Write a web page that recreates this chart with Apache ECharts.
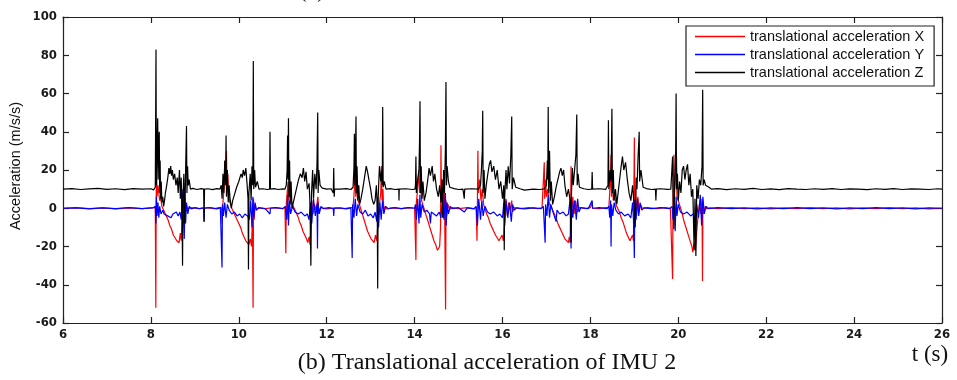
<!DOCTYPE html>
<html>
<head>
<meta charset="utf-8">
<script src="https://cdn.jsdelivr.net/npm/echarts@6/dist/echarts.min.js"></script>
<style>
html,body{margin:0;padding:0;background:#fff;}
#chart{width:957px;height:380px;}
</style>
</head>
<body>
<div id="chart"></div>
<script>
// ---- data (time in s, acceleration in m/s/s) ----
const seriesNames = ['translational acceleration X', 'translational acceleration Y', 'translational acceleration Z'];
const xTickMin = 6, xTickMax = 26, xTickStep = 2;
const yTickMin = -60, yTickMax = 100, yTickStep = 20;

const accX = [
[6.0,0],[6.3,0.3],[6.6,-0.2],[6.9,0.2],[7.2,-0.3],[7.5,0.2],[7.8,-0.2],[8.05,0.3],
[8.1,0.5],[8.112,-52],[8.12,5],[8.13,18],[8.14,6],[8.16,12],[8.18,8],[8.2,4],[8.22,6],[8.25,1],[8.28,0],[8.31,-2],[8.35,-4],[8.39,-6],[8.43,-9],[8.47,-11],[8.51,-14],[8.55,-15],[8.59,-17],[8.62,-16],[8.64,-18],[8.67,-13],[8.69,-17],[8.71,-5],[8.72,5],[8.74,-8],[8.76,2],[8.78,-3],[8.81,1],[8.85,-0.5],[8.9,0.3],
[9.1,-0.2],[9.3,0.3],[9.45,-0.2],[9.55,0.3],
[9.6,0.5],[9.62,-8],[9.64,3],[9.67,12],[9.7,22],[9.72,30],[9.73,10],[9.75,18],[9.77,6],[9.8,3],[9.84,0],[9.88,-2],[9.92,-4],[9.96,-6],[10.0,-8],[10.04,-10],[10.08,-13],[10.12,-15],[10.16,-17],[10.2,-17],[10.23,-19],[10.26,-16],[10.29,-20],[10.31,-5],[10.325,-52],[10.335,5],[10.35,-6],[10.37,2],[10.4,-1],[10.45,0.3],
[10.6,-0.2],[10.8,0.3],[11.0,-0.2],
[11.05,0.5],[11.07,-23.5],[11.08,2],[11.1,8],[11.12,14],[11.13,4],[11.15,10],[11.18,5],[11.22,2],[11.26,0],[11.3,-2],[11.34,-4],[11.38,-7],[11.42,-9],[11.46,-12],[11.5,-14],[11.54,-16],[11.57,-18],[11.6,-15],[11.62,-19],[11.64,-8],[11.66,4],[11.69,-3],[11.72,2],[11.76,-1],[11.8,6],[11.82,-2],[11.86,0.3],
[12.0,-0.3],[12.2,0.2],[12.4,-0.2],[12.55,0.3],
[12.6,0.5],[12.63,10],[12.65,23],[12.66,6],[12.68,14],[12.7,5],[12.73,3],[12.77,0],[12.81,-3],[12.85,-6],[12.89,-9],[12.93,-12],[12.97,-14],[13.01,-16],[13.05,-17],[13.08,-18],[13.11,-14],[13.14,-17],[13.17,-6],[13.2,2],[13.23,8],[13.245,22],[13.26,4],[13.28,10],[13.3,-2],[13.33,1],[13.37,-0.3],
[13.5,0.2],[13.7,-0.2],[13.9,0.3],[14.0,0],
[14.02,0.5],[14.03,-27],[14.04,3],[14.07,10],[14.1,20],[14.115,8],[14.13,14],[14.16,4],[14.2,1],[14.24,-2],[14.28,-5],[14.32,-8],[14.36,-11],[14.4,-14],[14.44,-17],[14.48,-19],[14.52,-22],[14.55,-23],[14.57,-20],[14.59,-10],[14.6,33],[14.61,5],[14.63,15],[14.65,-5],[14.68,8],[14.705,-53],[14.715,4],[14.73,-4],[14.76,2],[14.8,-0.5],[14.85,0.3],
[15.0,-0.2],[15.2,0.3],[15.35,-0.2],
[15.4,0.5],[15.42,-17],[15.43,5],[15.44,30],[15.45,8],[15.48,15],[15.51,4],[15.54,10],[15.57,2],[15.6,0],[15.64,-3],[15.68,-5],[15.72,-8],[15.76,-10],[15.8,-12],[15.84,-14],[15.88,-15],[15.92,-17],[15.96,-18],[15.99,-14],[16.02,-17],[16.05,-6],[16.08,5],[16.11,-4],[16.14,3],[16.18,-1],[16.21,4],[16.23,-2],[16.27,0.3],
[16.4,-0.2],[16.6,0.3],[16.8,-0.2],[16.9,0.2],
[16.93,0.5],[16.95,24],[16.96,5],[16.98,15],[17.0,6],[17.03,10],[17.06,3],[17.1,1],[17.14,-1],[17.18,-3],[17.22,-5],[17.26,-8],[17.3,-10],[17.34,-12],[17.38,-14],[17.42,-16],[17.46,-17],[17.5,-18],[17.52,-15],[17.54,-18],[17.56,22],[17.57,-5],[17.6,6],[17.63,-3],[17.66,4],[17.7,-2],[17.74,0.4],
[17.9,-0.2],[18.0,0.3],[18.04,3],[18.05,0],[18.2,-0.2],[18.35,0.3],
[18.42,0.5],[18.45,12],[18.47,28],[18.48,6],[18.5,16],[18.52,4],[18.55,8],[18.58,2],[18.62,0],[18.66,-2],[18.7,-5],[18.74,-7],[18.78,-10],[18.82,-13],[18.86,-15],[18.9,-17],[18.93,-18],[18.96,-14],[18.98,-17],[19.0,37],[19.01,-6],[19.03,10],[19.05,-4],[19.08,6],[19.11,-2],[19.14,2],[19.18,0],
[19.3,0.3],[19.5,-0.2],[19.7,0.3],[19.82,0],
[19.85,0.5],[19.87,-37],[19.88,4],[19.9,28],[19.91,8],[19.93,14],[19.96,27],[19.97,6],[20.0,4],[20.04,1],[20.08,-2],[20.12,-6],[20.16,-9],[20.2,-12],[20.24,-15],[20.28,-18],[20.31,-20],[20.33,-23],[20.36,-18],[20.39,-22],[20.42,-12],[20.45,-4],[20.48,2],[20.51,-3],[20.54,5],[20.55,-38],[20.56,3],[20.58,-3],[20.61,1],[20.65,-0.3],[20.7,0.2],
[20.9,-0.2],[21.2,0.3],[21.5,-0.2],[21.8,0.2],[22.1,-0.3],[22.4,0.2],[22.7,-0.2],[23.0,0.3],[23.3,-0.2],[23.6,0.2],[23.9,-0.3],[24.2,0.2],[24.5,-0.2],[24.8,0.3],[25.1,-0.2],[25.4,0.2],[25.7,-0.3],[26.0,0]
];

const accY = [
[6.0,0],[6.3,0.2],[6.6,-0.3],[6.9,0.2],[7.2,-0.2],[7.5,0.3],[7.8,-0.2],[8.05,0.2],
[8.1,1],[8.115,-8],[8.125,6],[8.14,-4],[8.16,3],[8.18,-5],[8.2,1],[8.23,-3],[8.27,-1],[8.3,-3],[8.34,-2],[8.38,-4],[8.42,-3],[8.46,-5],[8.5,-3],[8.54,-4],[8.58,-2],[8.62,-4],[8.66,-2],[8.69,-6],[8.71,4],[8.73,10],[8.74,-5],[8.76,-16],[8.775,6],[8.79,-8],[8.81,3],[8.84,-3],[8.87,1],[8.92,-0.3],
[9.0,0.3],[9.1,-0.2],[9.2,0.2],[9.21,-7],[9.22,0],[9.35,0.3],[9.5,-0.3],[9.58,0.2],
[9.6,1],[9.618,-31],[9.628,2],[9.65,-4],[9.68,3],[9.71,-5],[9.74,2],[9.78,-1],[9.84,-3],[9.9,-2],[9.96,-4],[10.02,-3],[10.08,-5],[10.14,-3],[10.2,-4],[10.24,-6],[10.27,4],[10.3,-10],[10.32,6],[10.34,-5],[10.37,3],[10.4,-1],[10.45,0.2],
[10.6,-0.2],[10.71,-3],[10.72,0],[10.85,0.3],[11.0,-0.2],
[11.06,1],[11.09,-6],[11.11,7],[11.13,-9],[11.15,4],[11.18,-3],[11.22,1],[11.28,-2],[11.35,-3],[11.42,-2],[11.5,-4],[11.56,-3],[11.6,-6],[11.63,3],[11.66,-8],[11.7,5],[11.74,-4],[11.78,2],[11.79,-21],[11.8,3],[11.83,-3],[11.87,1],[11.92,-0.2],
[12.05,0.3],[12.15,-0.2],[12.16,-4],[12.17,0],[12.3,0.2],[12.45,-0.3],[12.55,0.2],
[12.57,1],[12.58,-26],[12.59,2],[12.62,-5],[12.65,5],[12.68,-4],[12.71,2],[12.76,-2],[12.82,-3],[12.88,-1],[12.94,-4],[13.0,-3],[13.06,-5],[13.1,-2],[13.14,-7],[13.16,6],[13.18,-10],[13.21,3],[13.24,-6],[13.27,4],[13.3,-3],[13.34,1],[13.4,-0.2],
[13.55,0.3],[13.7,-0.2],[13.85,0.3],[14.0,0],
[14.02,2],[14.04,-6],[14.07,5],[14.1,-8],[14.12,7],[14.14,-5],[14.17,2],[14.22,-2],[14.28,-1],[14.34,-3],[14.36,-8],[14.38,-2],[14.44,-3],[14.5,-4],[14.56,-2],[14.6,-5],[14.63,4],[14.67,-6],[14.7,8],[14.72,-9],[14.74,3],[14.77,-3],[14.81,1],[14.86,-0.2],
[15.0,0.3],[15.13,-2],[15.2,0.2],[15.35,-0.3],
[15.4,1],[15.43,-9],[15.46,5],[15.5,-6],[15.53,4],[15.56,-4],[15.6,1],[15.66,-2],[15.72,-3],[15.8,-2],[15.88,-4],[15.94,-3],[16.0,-5],[16.03,3],[16.05,-9],[16.08,4],[16.12,-5],[16.16,3],[16.2,-7],[16.23,2],[16.27,-1],[16.32,0.2],
[16.5,-0.3],[16.7,0.2],[16.88,-0.2],
[16.93,1],[16.97,-18],[16.98,2],[17.01,-4],[17.04,7],[17.07,-5],[17.1,2],[17.15,-2],[17.22,-7],[17.24,-1],[17.3,-3],[17.38,-2],[17.45,-4],[17.5,-3],[17.54,5],[17.56,-21],[17.575,3],[17.6,-5],[17.64,4],[17.68,-6],[17.71,5],[17.74,-2],[17.78,0.3],
[17.95,-0.2],[18.04,4],[18.05,0],[18.2,0.3],[18.38,-0.2],
[18.42,1],[18.44,-5],[18.46,4],[18.47,-20],[18.48,2],[18.51,-4],[18.54,3],[18.58,-1],[18.64,-3],[18.7,-2],[18.78,-4],[18.86,-3],[18.92,-5],[18.96,3],[18.98,-6],[19.0,-26],[19.01,4],[19.04,-6],[19.07,5],[19.1,-4],[19.13,3],[19.17,-1],[19.22,0.2],
[19.4,-0.2],[19.6,0.3],[19.8,-0.2],
[19.86,1],[19.88,-6],[19.91,4],[19.93,-12],[19.95,6],[19.97,-4],[20.0,2],[20.05,-2],[20.12,-3],[20.2,-2],[20.28,-4],[20.34,-3],[20.38,-6],[20.42,2],[20.46,-5],[20.5,7],[20.53,-9],[20.56,6],[20.59,-3],[20.63,1],[20.68,-0.2],
[20.9,0.3],[21.2,-0.2],[21.5,0.2],[21.8,-0.3],[22.1,0.2],[22.4,-0.2],[22.7,0.3],[23.0,-0.2],[23.3,0.2],[23.6,-0.3],[23.9,0.2],[24.2,-0.2],[24.5,0.3],[24.8,-0.2],[25.1,0.2],[25.4,-0.3],[25.7,0.2],[26.0,0]
];

const accZ = [
[6.0,10],[6.2,10.3],[6.4,9.8],[6.6,10.1],[6.8,10.4],[7.0,9.9],[7.2,10.2],[7.4,9.7],[7.6,10.3],[7.8,10.0],[8.0,10.2],[8.06,9.6],
[8.1,11],[8.116,83],[8.125,12],[8.14,30],[8.155,47],[8.165,15],[8.175,35],[8.19,40],[8.2,8],[8.21,25],[8.22,5],[8.235,14],[8.25,3],[8.27,6],[8.29,1],[8.31,4],[8.33,8],[8.36,12],[8.39,17],[8.41,21],[8.43,18],[8.45,22],[8.47,17],[8.49,20],[8.51,15],[8.54,18],[8.57,12],[8.6,16],[8.62,8],[8.65,20],[8.67,5],[8.69,16],[8.71,-5],[8.72,-30],[8.73,5],[8.75,18],[8.77,-8],[8.79,20],[8.81,43],[8.82,8],[8.835,22],[8.85,12],[8.87,15],[8.9,10],[8.95,10.4],
[9.05,9.8],[9.15,10.3],[9.2,10],[9.21,-7],[9.22,10],[9.3,10.2],[9.4,9.7],[9.5,10.3],[9.57,10],
[9.6,12],[9.62,5],[9.64,18],[9.66,8],[9.68,25],[9.7,12],[9.71,38],[9.72,6],[9.74,20],[9.76,3],[9.78,12],[9.8,5],[9.83,0],[9.86,4],[9.9,7],[9.95,11],[10.0,14],[10.05,18],[10.08,16],[10.1,20],[10.13,17],[10.16,21],[10.19,12],[10.21,5],[10.22,-32],[10.23,8],[10.26,18],[10.28,4],[10.3,22],[10.32,12],[10.33,77],[10.34,10],[10.36,20],[10.38,11],[10.42,14],[10.46,10],[10.55,10.2],
[10.65,9.8],[10.7,10],[10.71,40],[10.72,10],[10.8,10.3],[10.9,9.8],[11.0,10.1],[11.05,10],
[11.08,12],[11.1,20],[11.11,38],[11.12,15],[11.13,47],[11.14,6],[11.155,25],[11.17,2],[11.19,14],[11.21,0],[11.24,3],[11.28,7],[11.32,11],[11.36,15],[11.4,18],[11.44,16],[11.47,21],[11.5,14],[11.53,19],[11.56,10],[11.6,13],[11.62,2],[11.64,-30],[11.655,8],[11.68,20],[11.7,5],[11.73,18],[11.76,10],[11.78,24],[11.795,50],[11.805,8],[11.82,20],[11.85,12],[11.9,10.5],[12.0,10],[12.1,10.2],
[12.15,8],[12.16,21],[12.17,6],[12.18,10],[12.3,10],[12.45,10.3],[12.55,9.8],
[12.6,11],[12.62,21],[12.63,39],[12.64,12],[12.655,30],[12.667,48],[12.675,8],[12.69,22],[12.71,4],[12.73,12],[12.75,2],[12.78,5],[12.82,10],[12.86,16],[12.9,22],[12.93,19],[12.96,15],[13.0,10],[13.03,5],[13.07,2],[13.1,4],[13.13,12],[13.15,0],[13.16,-42],[13.17,5],[13.2,22],[13.23,14],[13.25,20],[13.265,12],[13.274,53],[13.285,11],[13.31,14],[13.35,10],[13.45,10.3],[13.55,9.8],
[13.64,10],[13.645,4],[13.65,10],[13.8,10.2],[13.95,9.8],[14.01,10],
[14.02,12],[14.03,27],[14.04,8],[14.07,15],[14.1,20],[14.112,35],[14.123,56],[14.133,8],[14.15,22],[14.17,5],[14.19,14],[14.22,4],[14.26,8],[14.3,15],[14.33,21],[14.36,17],[14.4,22],[14.43,14],[14.46,18],[14.5,10],[14.54,6],[14.57,12],[14.6,3],[14.62,15],[14.64,-5],[14.66,20],[14.68,8],[14.7,30],[14.714,66],[14.724,12],[14.74,22],[14.77,14],[14.8,11],[14.9,10.3],[15.0,9.8],[15.1,10],
[15.13,5],[15.14,10],[15.3,10.2],[15.45,10],
[15.5,12],[15.52,20],[15.54,30],[15.55,51],[15.56,8],[15.58,20],[15.6,5],[15.63,12],[15.66,17],[15.7,23],[15.73,25],[15.76,19],[15.8,22],[15.84,15],[15.88,20],[15.92,10],[15.96,14],[16.0,5],[16.03,12],[16.04,-22],[16.05,6],[16.08,20],[16.1,10],[16.13,22],[16.16,13],[16.19,28],[16.21,48],[16.22,10],[16.25,16],[16.3,11],[16.4,10.2],
[16.5,9.5],[16.52,10.3],[16.7,10],[16.85,9.8],[16.95,10.1],
[17.0,12],[17.02,25],[17.03,15],[17.04,53],[17.05,8],[17.07,30],[17.09,4],[17.11,14],[17.14,2],[17.18,6],[17.22,11],[17.26,15],[17.3,19],[17.33,21],[17.36,17],[17.39,20],[17.42,12],[17.46,6],[17.5,10],[17.54,4],[17.56,-18],[17.57,8],[17.59,21],[17.61,12],[17.64,20],[17.67,28],[17.69,49],[17.7,12],[17.72,18],[17.75,11],[17.85,10.2],[17.95,9.8],
[18.03,10],[18.04,19],[18.05,10],[18.2,10.2],[18.35,9.9],
[18.4,12],[18.41,46],[18.42,10],[18.45,20],[18.47,14],[18.49,52],[18.5,8],[18.52,20],[18.54,4],[18.57,10],[18.6,2],[18.63,8],[18.66,14],[18.7,22],[18.73,27],[18.76,20],[18.8,24],[18.84,15],[18.88,8],[18.92,4],[18.96,12],[19.0,0],[19.02,-10],[19.04,16],[19.06,10],[19.08,24],[19.11,40],[19.12,14],[19.15,20],[19.2,11],[19.3,10.1],[19.4,9.8],
[19.48,10],[19.49,4],[19.5,10],[19.6,10.2],[19.75,9.9],[19.83,10],
[19.85,11],[19.87,27],[19.88,8],[19.9,-11],[19.92,15],[19.94,30],[19.95,60],[19.96,10],[19.98,18],[20.0,4],[20.03,14],[20.06,8],[20.09,20],[20.12,22],[20.15,15],[20.18,20],[20.21,23],[20.24,12],[20.27,18],[20.3,6],[20.33,10],[20.36,-22],[20.38,5],[20.4,-25],[20.42,12],[20.45,5],[20.48,15],[20.51,12],[20.54,22],[20.555,62],[20.565,12],[20.59,15],[20.62,12],[20.66,13],[20.7,11],[20.75,10],
[20.9,10.3],[21.1,9.7],[21.3,10.2],[21.5,9.9],[21.7,10.4],[21.9,9.8],[22.1,10.1],[22.3,9.7],[22.5,10.3],[22.7,10],[22.9,9.8],[23.1,10.2],[23.3,9.9],[23.5,10.3],[23.7,9.8],[23.9,10.1],[24.1,10],[24.3,9.7],[24.5,10.2],[24.7,9.9],[24.9,10.3],[25.1,9.8],[25.3,10.1],[25.5,10],[25.7,9.8],[25.9,10.2],[26.0,10]
];

const seriesColors = ['#ff0000', '#0000ff', '#000000'];

// ---- chart ----
const chart = echarts.init(document.getElementById('chart'), null, {renderer: 'canvas'});
const tickFont = {fontFamily: "'Liberation Sans Narrow','DejaVu Sans Condensed',sans-serif", fontWeight: 'bold', fontSize: 13, color: '#1a1a1a'};
const axisLineStyle = {color: '#222', width: 1.2};
function xAx(pos, showLabel) {
  return {
    type: 'value', position: pos, min: xTickMin, max: xTickMax, interval: xTickStep,
    axisLine: {show: true, onZero: false, lineStyle: axisLineStyle},
    axisTick: {show: true, inside: true, length: 6, lineStyle: {color: '#222', width: 1.2}},
    axisLabel: Object.assign({show: showLabel, margin: 5}, tickFont),
    splitLine: {show: false}
  };
}
function yAx(pos, showLabel) {
  return {
    type: 'value', position: pos, min: yTickMin, max: yTickMax, interval: yTickStep,
    axisLine: {show: true, onZero: false, lineStyle: axisLineStyle},
    axisTick: {show: true, inside: true, length: 6, lineStyle: {color: '#222', width: 1.2}},
    axisLabel: Object.assign({show: showLabel, margin: 6}, tickFont),
    splitLine: {show: false}
  };
}
const dataSets = [accX, accY, accZ];
chart.setOption({
  animation: false,
  backgroundColor: '#fff',
  grid: {left: 63, right: 15, top: 17, bottom: 57, containLabel: false},
  xAxis: [xAx('bottom', true), xAx('top', false)],
  yAxis: [yAx('left', true), yAx('right', false)],
  legend: {
    data: seriesNames.map((n, i) => ({name: n, icon: 'path://M0,0 H50 V1.6 H0 Z', itemStyle: {color: seriesColors[i]}})),
    orient: 'vertical',
    left: 686, top: 26,
    padding: [2, 10, 5, 9],
    itemGap: 1,
    itemWidth: 50, itemHeight: 14,
    symbolKeepAspect: true,
    borderColor: '#222', borderWidth: 1.2,
    backgroundColor: '#fff',
    textStyle: {fontFamily: "'Liberation Sans', Arial, sans-serif", fontSize: 14.5, color: '#111', lineHeight: 17},
    selectedMode: false
  },
  series: seriesNames.map((n, i) => ({
    name: n, type: 'line', data: dataSets[i],
    xAxisIndex: 0, yAxisIndex: 0,
    symbol: 'none', showSymbol: false,
    lineStyle: {color: seriesColors[i], width: 1.2},
    itemStyle: {color: seriesColors[i]},
    emphasis: {disabled: true},
    clip: true
  })),
  graphic: [
    {type: 'text', style: {
      text: '(a) Translational acceleration of IMU 1', x: 487, y: 3, align: 'center', verticalAlign: 'bottom',
      font: "24px 'Liberation Serif', 'Times New Roman', serif", fill: '#222'}},
    {type: 'text', style: {
      text: 'Acceleration (m/s/s)', x: 0, y: 0, align: 'center', verticalAlign: 'middle',
      font: "14.5px 'Liberation Sans', Arial, sans-serif", fill: '#111'},
      x: 16, y: 166, rotation: Math.PI / 2},
    {type: 'text', style: {
      text: '(b) Translational acceleration of IMU 2', x: 487, y: 363, align: 'center', verticalAlign: 'middle',
      font: "24px 'Liberation Serif', 'Times New Roman', serif", fill: '#111'}},
    {type: 'text', style: {
      text: 't (s)', x: 930, y: 355, align: 'center', verticalAlign: 'middle',
      font: "23px 'Liberation Serif', 'Times New Roman', serif", fill: '#111'}}
  ]
});
</script>
</body>
</html>
